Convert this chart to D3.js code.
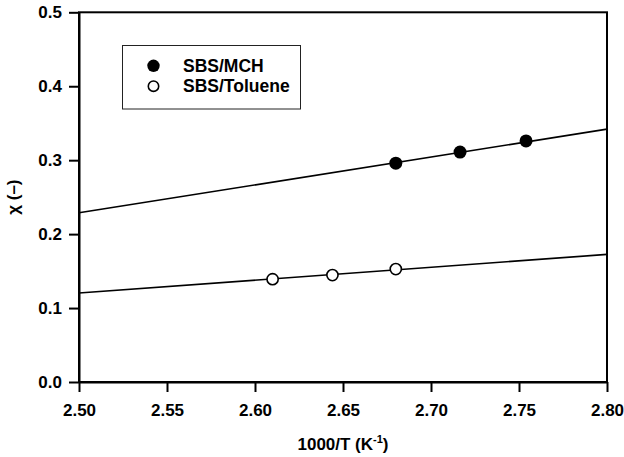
<!DOCTYPE html>
<html>
<head>
<meta charset="utf-8">
<script src="https://cdn.jsdelivr.net/npm/d3@7"></script>
<style>
  html, body { margin: 0; padding: 0; background: #fff; }
  svg text { font-family: "Liberation Sans", Arial, Helvetica, sans-serif; font-weight: bold; fill: #000; }
</style>
</head>
<body>
<svg id="chart" width="624" height="457"></svg>
<script>
// Data
const mchX = [2.680, 2.7165, 2.754];
const mchY = [0.296, 0.311, 0.326];
const tolX = [2.610, 2.644, 2.680];
const tolY = [0.139, 0.1446, 0.1527];
// fitted lines (value at x = 2.50 and 2.80)
const fitX = [2.50, 2.80];
const mchFit = [0.2288, 0.342];
const tolFit = [0.1203, 0.1726];
const xTicks = [2.50, 2.55, 2.60, 2.65, 2.70, 2.75, 2.80];
const yTicks = [0.0, 0.1, 0.2, 0.3, 0.4, 0.5];
const seriesNames = ["SBS/MCH", "SBS/Toluene"];

const svg = d3.select("#chart");
const L = 79, R = 607, T = 12.3, B = 382;
const x = d3.scaleLinear().domain([2.5, 2.8]).range([L, R]);
const y = d3.scaleLinear().domain([0, 0.5]).range([B, T]);

// Frame
svg.append("rect").attr("x", L).attr("y", T).attr("width", R - L).attr("height", B - T)
  .attr("fill", "none").attr("stroke", "#000").attr("stroke-width", 2);

// Axes
const xAxis = svg.append("g").attr("transform", `translate(0,${B})`)
  .call(d3.axisBottom(x).tickValues(xTicks).tickFormat(d3.format(".2f")).tickSizeInner(10).tickSizeOuter(0).tickPadding(12));
const yAxis = svg.append("g").attr("transform", `translate(${L},0)`)
  .call(d3.axisLeft(y).tickValues(yTicks).tickFormat(d3.format(".1f")).tickSizeInner(10).tickSizeOuter(0).tickPadding(7));
[xAxis, yAxis].forEach(g => {
  g.select(".domain").attr("stroke", "#000").attr("stroke-width", 2);
  g.selectAll(".tick line").attr("stroke", "#000").attr("stroke-width", 2);
  g.selectAll(".tick text").style("font-size", "17px").attr("fill", "#000");
});

// Fit lines
const line = d3.line().x(d => x(d[0])).y(d => y(d[1]));
[mchFit, tolFit].forEach(f => {
  svg.append("path").datum(fitX.map((v, i) => [v, f[i]]))
    .attr("d", line).attr("fill", "none").attr("stroke", "#000").attr("stroke-width", 1.6);
});

// Points
svg.selectAll(".mch").data(mchX.map((v, i) => [v, mchY[i]])).enter().append("circle")
  .attr("cx", d => x(d[0])).attr("cy", d => y(d[1])).attr("r", 6.5).attr("fill", "#000");
svg.selectAll(".tol").data(tolX.map((v, i) => [v, tolY[i]])).enter().append("circle")
  .attr("cx", d => x(d[0])).attr("cy", d => y(d[1])).attr("r", 5.6)
  .attr("fill", "#fff").attr("stroke", "#000").attr("stroke-width", 1.6);

// Legend
svg.append("rect").attr("x", 122.5).attr("y", 45.5).attr("width", 178).attr("height", 63.5)
  .attr("fill", "#fff").attr("stroke", "#222").attr("stroke-width", 1);
svg.append("circle").attr("cx", 153.5).attr("cy", 65.8).attr("r", 6.2).attr("fill", "#000");
svg.append("circle").attr("cx", 153.5).attr("cy", 86.2).attr("r", 5.2)
  .attr("fill", "#fff").attr("stroke", "#000").attr("stroke-width", 1.6);
svg.append("text").attr("x", 183).attr("y", 71.5).style("font-size", "17.5px").text(seriesNames[0]);
svg.append("text").attr("x", 183).attr("y", 92.3).style("font-size", "17.5px").text(seriesNames[1]);

// Axis titles
const xt = svg.append("text").attr("x", (L + R) / 2).attr("y", 450)
  .attr("text-anchor", "middle").style("font-size", "17px");
xt.append("tspan").text("1000/T (K");
xt.append("tspan").attr("dy", -7).style("font-size", "11px").text("-1");
xt.append("tspan").attr("dy", 7).text(")");

svg.append("text").attr("transform", `translate(19,${(T + B) / 2}) rotate(-90)`)
  .attr("text-anchor", "middle").style("font-size", "17px").text("χ (–)");
</script>
</body>
</html>
